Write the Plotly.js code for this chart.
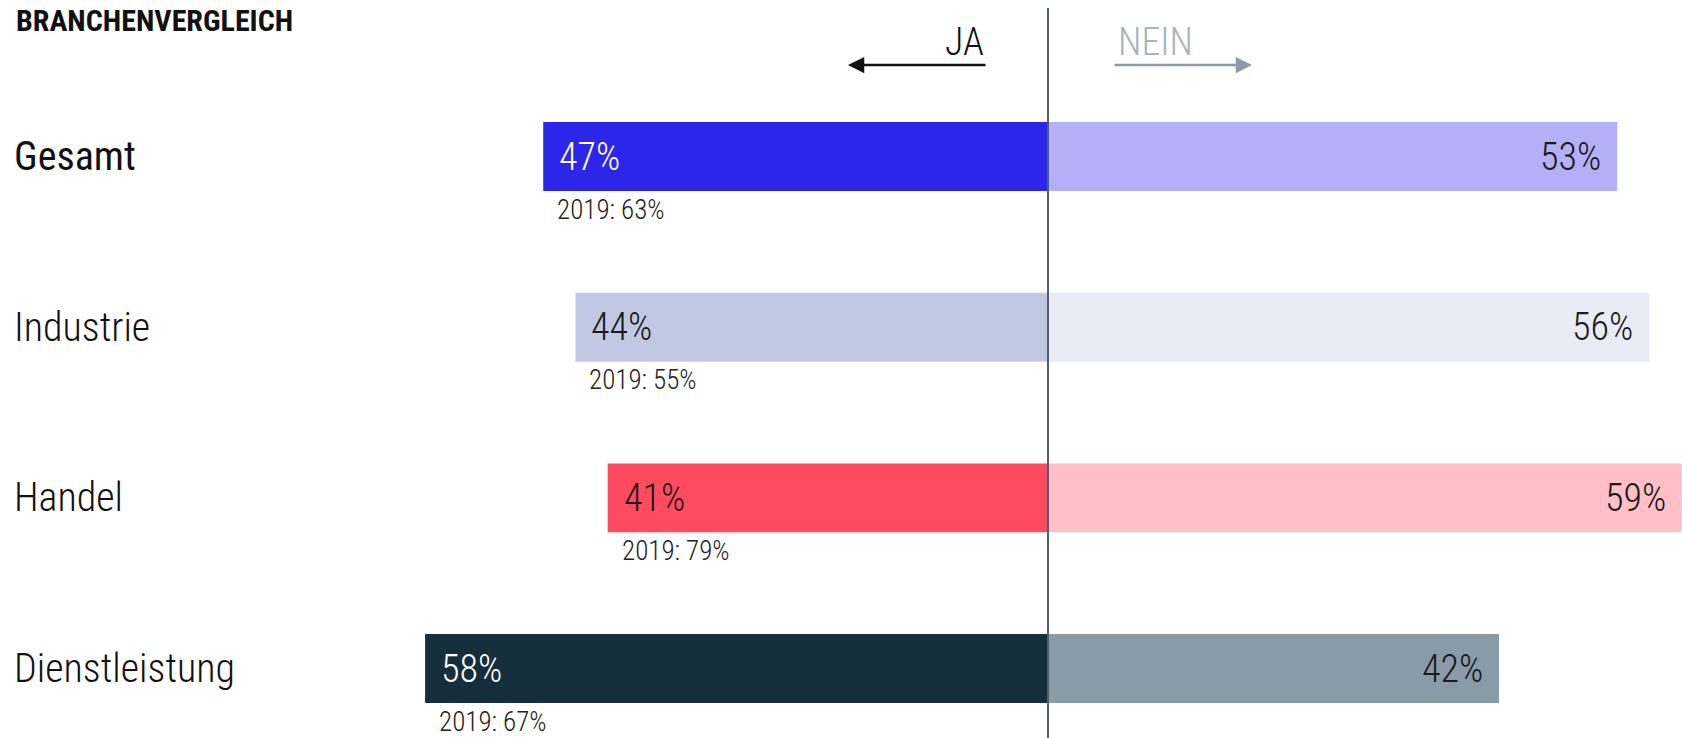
<!DOCTYPE html>
<html>
<head>
<meta charset="utf-8">
<script src="https://cdn.plot.ly/plotly-3.0.1.min.js"></script>
<style>html,body{margin:0;padding:0;background:#fff;}#chart{width:1682px;height:738px;}</style>
</head>
<body>
<div id="chart"></div>
<script>
const categories = ['Gesamt', 'Industrie', 'Handel', 'Dienstleistung'];
const jaValues = [47, 44, 41, 58];
const neinValues = [53, 56, 59, 42];
const values2019 = [63, 55, 79, 67];
const jaColors = ['#2c26ea', '#c0c8e4', '#ff4b5f', '#142f3b'];
const neinColors = ['#b3b0f8', '#e9ebf5', '#ffbfc6', '#8a9ba8'];
const jaTextColors = ['#ffffff', '#1a1a1a', '#1a1a1a', '#ffffff'];
const neinTextColor = '#1a1a1a';

const FONT = 'Roboto Condensed, Liberation Sans Narrow, DejaVu Sans Condensed, sans-serif';

const traces = [
  {
    type: 'bar', orientation: 'h', name: 'JA',
    y: categories, x: jaValues.map(v => -v),
    width: 0.404,
    marker: {color: jaColors, line: {width: 0}},
    hoverinfo: 'skip'
  },
  {
    type: 'bar', orientation: 'h', name: 'NEIN',
    y: categories, x: neinValues,
    width: 0.404,
    marker: {color: neinColors, line: {width: 0}},
    hoverinfo: 'skip'
  }
];

const annotations = [];
categories.forEach((c, i) => {
  annotations.push({
    xref: 'paper', yref: 'y', x: 0, y: c, xanchor: 'left', yanchor: 'middle',
    xshift: 12, text: c, showarrow: false,
    font: {family: FONT, size: 40, color: '#111', weight: i === 0 ? 400 : 300}
  });
  annotations.push({
    xref: 'x', yref: 'y', x: -jaValues[i], y: c, xanchor: 'left', yanchor: 'middle',
    xshift: 14, text: jaValues[i] + '%', showarrow: false,
    font: {family: FONT, size: 38, color: jaTextColors[i], weight: 300}
  });
  annotations.push({
    xref: 'x', yref: 'y', x: neinValues[i], y: c, xanchor: 'right', yanchor: 'middle',
    xshift: -14, text: neinValues[i] + '%', showarrow: false,
    font: {family: FONT, size: 38, color: neinTextColor, weight: 300}
  });
  annotations.push({
    xref: 'x', yref: 'y', x: -jaValues[i], y: c, xanchor: 'left', yanchor: 'middle',
    xshift: 12, yshift: -53, text: '2019: ' + values2019[i] + '%', showarrow: false,
    font: {family: FONT, size: 27, color: '#222', weight: 300}
  });
});

// header texts
annotations.push({
  xref: 'paper', yref: 'paper', x: 14 / 1682, y: 1 - 21 / 738, xanchor: 'left', yanchor: 'middle',
  text: 'BRANCHENVERGLEICH', showarrow: false,
  font: {family: FONT, size: 30, color: '#111', weight: 700}
});
annotations.push({
  xref: 'paper', yref: 'paper', x: 986 / 1682, y: 1 - 42 / 738, xanchor: 'right', yanchor: 'middle',
  text: 'JA', showarrow: false,
  font: {family: FONT, size: 38, color: '#111', weight: 300}
});
annotations.push({
  xref: 'paper', yref: 'paper', x: 1116 / 1682, y: 1 - 42 / 738, xanchor: 'left', yanchor: 'middle',
  text: 'NEIN', showarrow: false,
  font: {family: FONT, size: 38, color: '#a8b3bc', weight: 300}
});
// arrows
annotations.push({
  xref: 'paper', yref: 'paper', x: 848 / 1682, y: 1 - 65 / 738, text: '',
  showarrow: true, axref: 'pixel', ayref: 'pixel', ax: 139, ay: 0,
  arrowhead: 2, arrowsize: 1.3, arrowwidth: 2.5, arrowcolor: '#111', standoff: 0
});
annotations.push({
  xref: 'paper', yref: 'paper', x: 1252 / 1682, y: 1 - 65 / 738, text: '',
  showarrow: true, axref: 'pixel', ayref: 'pixel', ax: -139, ay: 0,
  arrowhead: 2, arrowsize: 1.3, arrowwidth: 2.5, arrowcolor: '#8b9aa6', standoff: 0
});

const layout = {
  width: 1682, height: 738,
  margin: {l: 0, r: 0, t: 0, b: 0, pad: 0},
  paper_bgcolor: '#ffffff', plot_bgcolor: '#ffffff',
  barmode: 'relative',
  showlegend: false,
  xaxis: {range: [-97.58, 59.03], showgrid: false, zeroline: false, showticklabels: false, ticks: '', fixedrange: true},
  yaxis: {type: 'category', range: [3.407, -0.917], showgrid: false, zeroline: false, showticklabels: false, ticks: '', fixedrange: true},
  shapes: [{
    type: 'line', xref: 'x', yref: 'paper', x0: 0, x1: 0, y0: 0, y1: 1 - 8 / 738,
    line: {color: '#4f5f6b', width: 2}
  }],
  annotations: annotations
};

Plotly.newPlot('chart', traces, layout, {displayModeBar: false, staticPlot: true});
</script>
</body>
</html>
